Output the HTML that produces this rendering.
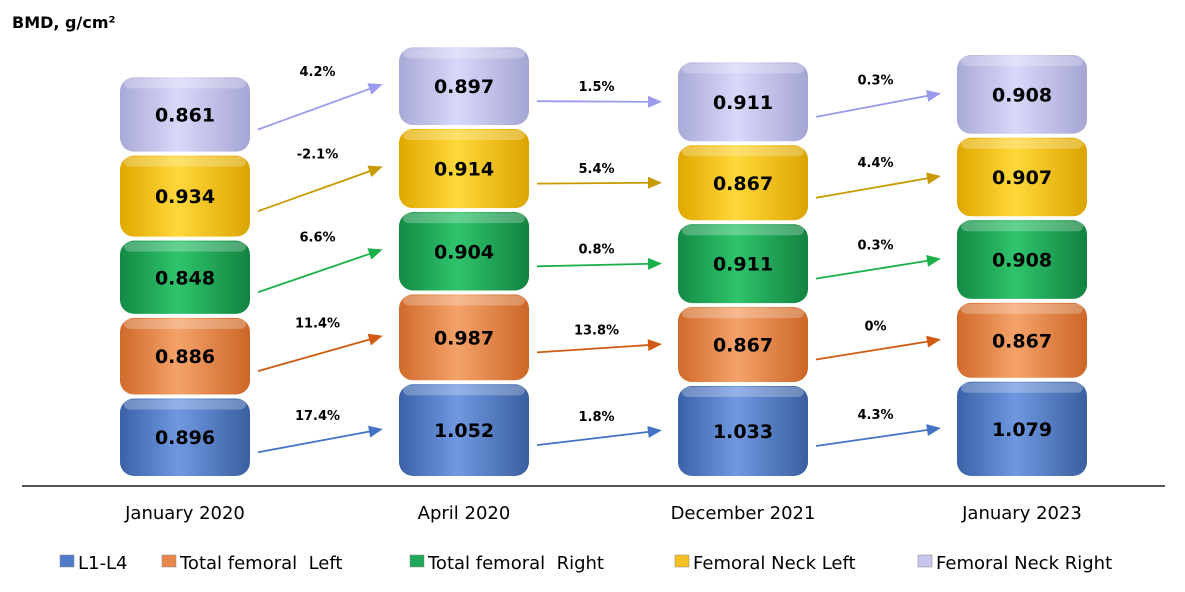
<!DOCTYPE html>
<html><head><meta charset="utf-8"><style>
body{margin:0;background:#fff;}
svg{display:block;font-family:"DejaVu Sans","Liberation Sans",sans-serif;}
</style></head><body>
<svg id="c" width="1185" height="592">
<defs>
<linearGradient id="g0" x1="0" x2="1"><stop offset="0" stop-color="#3b62a8"/><stop offset="0.45" stop-color="#6f98e0"/><stop offset="1" stop-color="#3a5fa0"/></linearGradient>
<linearGradient id="g1" x1="0" x2="1"><stop offset="0" stop-color="#d06a2a"/><stop offset="0.45" stop-color="#f4a26a"/><stop offset="1" stop-color="#cc6626"/></linearGradient>
<linearGradient id="g2" x1="0" x2="1"><stop offset="0" stop-color="#138a44"/><stop offset="0.45" stop-color="#2fc46c"/><stop offset="1" stop-color="#128240"/></linearGradient>
<linearGradient id="g3" x1="0" x2="1"><stop offset="0" stop-color="#e0a800"/><stop offset="0.45" stop-color="#ffd83a"/><stop offset="1" stop-color="#dba400"/></linearGradient>
<linearGradient id="g4" x1="0" x2="1"><stop offset="0" stop-color="#a9a9d8"/><stop offset="0.45" stop-color="#d8d8fa"/><stop offset="1" stop-color="#a5a5d4"/></linearGradient>
</defs>
<text x="12" y="28" font-size="16" font-weight="bold">BMD, g/cm²</text>
<line x1="22" y1="486" x2="1165" y2="486" stroke="#555" stroke-width="2"/>
<g id="bars"></g><g id="arrows"></g><g id="legend"></g>
</svg>
<script>
const categories=["January 2020","April 2020","December 2021","January 2023"];
const series=["L1-L4","Total femoral  Left","Total femoral  Right","Femoral Neck Left","Femoral Neck Right"];
const l1l4=[0.896,1.052,1.033,1.079];
const femLeft=[0.886,0.987,0.867,0.867];
const femRight=[0.848,0.904,0.911,0.908];
const neckLeft=[0.934,0.914,0.867,0.907];
const neckRight=[0.861,0.897,0.911,0.908];
const changeL1=["17.4%","1.8%","4.3%"];
const changeFL=["11.4%","13.8%","0%"];
const changeFR=["6.6%","0.8%","0.3%"];
const changeNL=["-2.1%","5.4%","4.4%"];
const changeNR=["4.2%","1.5%","0.3%"];
const vals=[l1l4,femLeft,femRight,neckLeft,neckRight];
const changes=[changeL1,changeFL,changeFR,changeNL,changeNR];
const arrowCol=["#4472c4","#d05a10","#1cb04a","#c89a00","#9a9aee"];
const legCol=["#4f7bc9","#e8874a","#1fa85a","#f5c021","#c5c5ee"];
const NS="http://www.w3.org/2000/svg";
const base=478, k=91, bw=130;
const xc=i=>185+i*279;
const y=v=>base-v*k;
function mk(t,a,p){const e=document.createElementNS(NS,t);for(const kk in a)e.setAttribute(kk,a[kk]);p.appendChild(e);return e;}
const bars=document.getElementById('bars'),arr=document.getElementById('arrows'),leg=document.getElementById('legend');
const centers=[];
categories.forEach((c,i)=>{
  let cum=0;centers[i]=[];
  vals.forEach((s,j)=>{
    const top=y(cum+s[i]),bot=y(cum);cum+=s[i];
    const r=mk('rect',{x:xc(i)-bw/2,y:top+2,width:bw,height:bot-top-4,rx:14,fill:`url(#g${j})`},bars);
    
    
    const h=mk('rect',{x:xc(i)-bw/2+4,y:top+3,width:bw-8,height:10,rx:6,fill:'#fff',opacity:0.25},bars);
    
    
    const t=mk('text',{x:xc(i),y:(top+bot)/2+7,'text-anchor':'middle','font-size':19,'font-weight':'bold'},bars);
    t.textContent=s[i].toFixed(3);
    
    
    centers[i][j]=(top+bot)/2;
  });
  const l=mk('text',{x:xc(i),y:519,'text-anchor':'middle','font-size':18},bars);
  l.textContent=c;
  
  
});
for(let i=0;i<3;i++){
  for(let j=0;j<5;j++){
    const x1=xc(i)+bw/2+8,y1=centers[i][j]+15,x2=xc(i+1)-bw/2-22,y2=centers[i+1][j];
    const a=mk('line',{x1,y1,x2,y2,stroke:arrowCol[j],'stroke-width':1.8},arr);
    
    
    const ang=Math.atan2(y2-y1,x2-x1),L=14,W=6;
    const px=x2+Math.cos(ang)*6,py=y2+Math.sin(ang)*6;
    const pts=[[px,py],[px-L*Math.cos(ang)+W*Math.sin(ang),py-L*Math.sin(ang)-W*Math.cos(ang)],[px-L*Math.cos(ang)-W*Math.sin(ang),py-L*Math.sin(ang)+W*Math.cos(ang)]];
    const h=mk('polygon',{points:pts.map(p=>p.join(',')).join(' '),fill:arrowCol[j]},arr);
    
    
    const t=mk('text',{x:(x1+x2)/2,y:Math.min(y1,y2)-10,'text-anchor':'middle','font-size':13,'font-weight':'bold'},arr);
    t.textContent=changes[j][i];
    
    
  }
}
const lx=[60,162,410,675,918];
series.forEach((s,j)=>{
  const r=mk('rect',{x:lx[j],y:555,width:14,height:12,fill:legCol[j],stroke:'#888','stroke-width':0.5},leg);
  
  
  const t=mk('text',{x:lx[j]+18,y:569,'font-size':18},leg);
  t.setAttribute('style','white-space:pre');
  t.textContent=s;
  
  
});
</script>
</body></html>
